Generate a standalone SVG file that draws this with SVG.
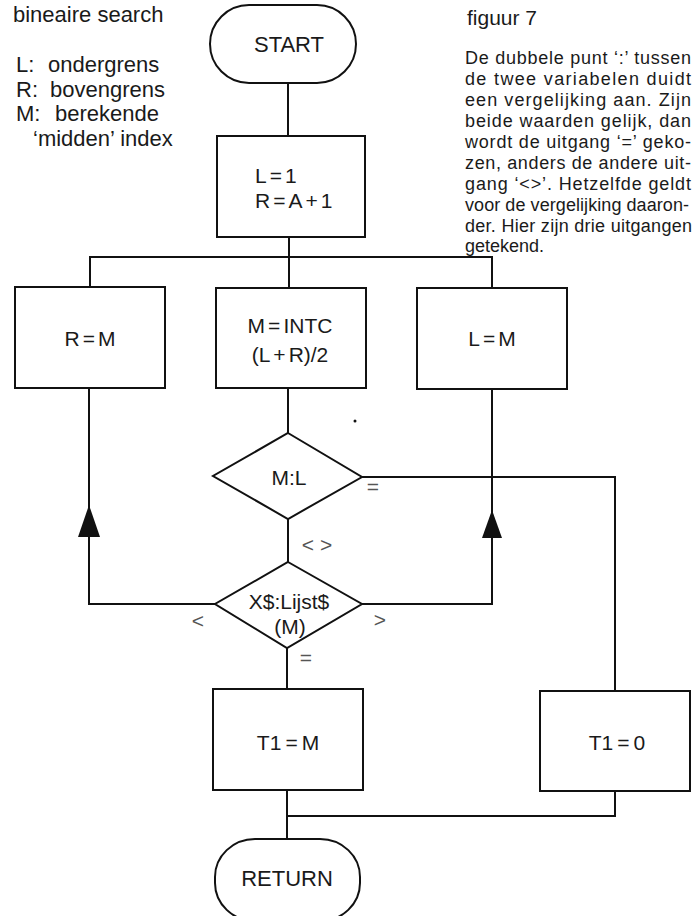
<svg xmlns="http://www.w3.org/2000/svg" width="694" height="916" viewBox="0 0 694 916">
<style>
.shape{fill:none;stroke:#111;stroke-width:2}
.line{fill:none;stroke:#111;stroke-width:2}
.arrow{fill:#111;stroke:none}
text{font-family:"Liberation Sans",Arial,sans-serif;fill:#1a1a1a}
.lbl{font-size:21px;text-anchor:middle}
.term{font-size:22px;text-anchor:middle}
.side{font-size:22px}
.para{font-size:18px}
.exit{font-size:21px;fill:#555;text-anchor:middle}
</style>
<rect width="694" height="916" fill="#fff"/>

<g id="notes">
<text class="side" x="13" y="22">bineaire search</text>
<text class="side" x="16" y="72">L:<tspan x="48">ondergrens</tspan></text>
<text class="side" x="16" y="97">R:<tspan x="50">bovengrens</tspan></text>
<text class="side" x="16" y="121">M:<tspan x="55">berekende</tspan></text>
<text class="side" x="33" y="146">‘midden’ index</text>
<text x="467" y="25" style="font-size:21px">figuur 7</text>
<g class="para">
<text x="465" y="64" textLength="226" lengthAdjust="spacing">De dubbele punt ‘:’ tussen</text>
<text x="465" y="85" textLength="226" lengthAdjust="spacing">de twee variabelen duidt</text>
<text x="465" y="106" textLength="226" lengthAdjust="spacing">een vergelijking aan. Zijn</text>
<text x="465" y="127" textLength="226" lengthAdjust="spacing">beide waarden gelijk, dan</text>
<text x="465" y="148" textLength="226" lengthAdjust="spacing">wordt de uitgang ‘=’ geko-</text>
<text x="465" y="169" textLength="226" lengthAdjust="spacing">zen, anders de andere uit-</text>
<text x="465" y="190" textLength="226" lengthAdjust="spacing">gang ‘&lt;&gt;’. Hetzelfde geldt</text>
<text x="465" y="211" textLength="224" lengthAdjust="spacing">voor de vergelijking daaron-</text>
<text x="465" y="232" textLength="227" lengthAdjust="spacing">der. Hier zijn drie uitgangen</text>
<text x="465" y="252">getekend.</text>
</g>
</g>

<g id="connectors">
<path class="line" d="M288 83V136"/>
<path class="line" d="M289 237V288"/>
<path class="line" d="M90 287V257H492V288"/>
<path class="line" d="M288 388V433"/>
<path class="line" d="M215 604H89V388"/>
<path class="line" d="M362 604H492V389"/>
<path class="line" d="M362 477H615V691"/>
<path class="line" d="M288 519V562"/>
<path class="line" d="M287 648V689"/>
<path class="line" d="M287 790V839"/>
<path class="line" d="M615 791V816H287"/>
<polygon class="arrow" points="89,505 78,537 100,537"/>
<polygon class="arrow" points="492,510 482,538 502,538"/>
<text class="exit" x="373" y="494">=</text>
<text class="exit" x="317" y="552">&lt; &gt;</text>
<text class="exit" x="198" y="628">&lt;</text>
<text class="exit" x="380" y="627">&gt;</text>
<text class="exit" x="306" y="665">=</text>
<circle cx="355" cy="421" r="1.5" fill="#111"/>
</g>

<g id="start">
<rect class="shape" x="210" y="5" width="146" height="78" rx="39" ry="39"/>
<text class="term" x="289" y="52">START</text>
</g>

<g id="init">
<rect class="shape" x="217" y="136" width="148" height="101"/>
<text style="font-size:21px" x="255" y="183">L<tspan dx="3">=</tspan><tspan dx="3">1</tspan></text>
<text style="font-size:21px" x="255" y="208">R<tspan dx="3">=</tspan><tspan dx="3">A</tspan><tspan dx="3">+</tspan><tspan dx="3">1</tspan></text>
</g>

<g id="setR">
<rect class="shape" x="15" y="287" width="150" height="101"/>
<text class="lbl" x="90" y="346">R<tspan dx="3">=</tspan><tspan dx="3">M</tspan></text>
</g>

<g id="calcM">
<rect class="shape" x="216" y="288" width="150" height="100"/>
<text class="lbl" x="290" y="333">M<tspan dx="3">=</tspan><tspan dx="3">INTC</tspan></text>
<text class="lbl" x="290" y="362">(L<tspan dx="3">+</tspan><tspan dx="3">R)/2</tspan></text>
</g>

<g id="setL">
<rect class="shape" x="417" y="288" width="150" height="101"/>
<text class="lbl" x="492" y="346">L<tspan dx="3">=</tspan><tspan dx="3">M</tspan></text>
</g>

<g id="cmpML">
<polygon class="shape" points="288,433 362,477 288,519 213,476"/>
<text class="lbl" x="289" y="485">M:L</text>
</g>

<g id="cmpX">
<polygon class="shape" points="288,562 362,604 287,648 215,604"/>
<text class="lbl" x="289" y="609">X$:Lijst$</text>
<text class="lbl" x="290" y="634">(M)</text>
</g>

<g id="found">
<rect class="shape" x="213" y="689" width="150" height="101"/>
<text class="lbl" x="288" y="750">T1<tspan dx="4">=</tspan><tspan dx="4">M</tspan></text>
</g>

<g id="notfound">
<rect class="shape" x="540" y="691" width="150" height="100"/>
<text class="lbl" x="617" y="750">T1<tspan dx="4">=</tspan><tspan dx="4">0</tspan></text>
</g>

<g id="return">
<rect class="shape" x="215" y="839" width="145" height="82" rx="40" ry="38"/>
<text class="term" x="287" y="886">RETURN</text>
</g>
</svg>
